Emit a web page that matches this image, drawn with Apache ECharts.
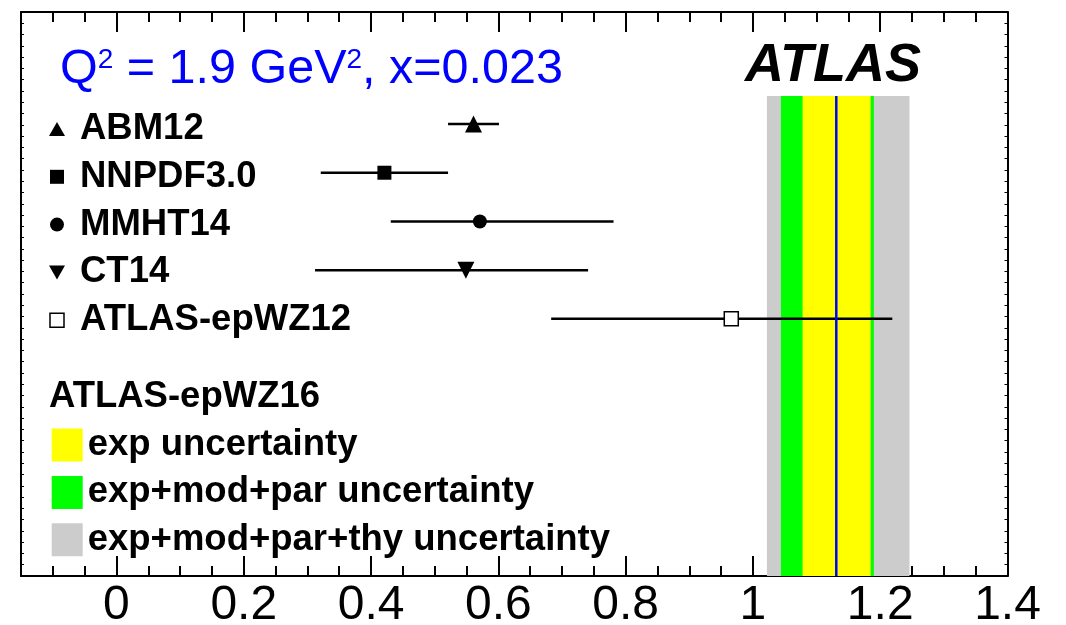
<!DOCTYPE html>
<html lang="en">
<head>
    <meta charset="UTF-8">
    <title>r_s ATLAS</title>
    <script src="https://cdn.jsdelivr.net/npm/echarts@6.0.0/dist/echarts.min.js"></script>
    <style>
        html, body { margin: 0; padding: 0; background: #fff; }
        #chart { width: 1066px; height: 625px; }
    </style>
</head>
<body>
<div id="chart"></div>
<script>
    // PDF sets, central value and error bar ends
    var pdfSets = ['ABM12', 'NNPDF3.0', 'MMHT14', 'CT14', 'ATLAS-epWZ12'];
    var pdfCentral = [0.561, 0.421, 0.571, 0.549, 0.966];
    var pdfLow = [0.521, 0.321, 0.431, 0.312, 0.683];
    var pdfHigh = [0.601, 0.521, 0.781, 0.741, 1.219];

    // ATLAS-epWZ16 result and its uncertainty bands
    var epWZ16Central = 1.131;
    var bandNames = ['exp uncertainty', 'exp+mod+par uncertainty', 'exp+mod+par+thy uncertainty'];
    var bandLow = [1.078, 1.044, 1.022];
    var bandHigh = [1.185, 1.190, 1.246];
    var bandColors = ['#ffff00', '#00ff00', '#cccccc'];

    var xMajorTicks = [0, 0.2, 0.4, 0.6, 0.8, 1, 1.2, 1.4];

    var FONT = 'Liberation Sans, Arial, Helvetica, sans-serif';
    var LEG_FS = 36.5;
    var BAND_TOP = 0.425;   // row units, top of the coloured bands

    var xMinorTicks = [];
    for (var k = -3; k <= 28; k++) xMinorTicks.push(Math.round(k * 5) / 100);

    var markerSymbols = ['triangle', 'rect', 'circle', 'triangle', 'rect'];
    var markerSizes = [17, 14, 14, 17, 14];

    var chart = echarts.init(document.getElementById('chart'));

    function xAxisDef(pos, ticks, len, showLabel, showLine) {
        return {
            type: 'value', position: pos, min: -0.15, max: 1.4,
            axisLine: { show: showLine, onZero: false, lineStyle: { color: '#000', width: 2 } },
            axisTick: { show: true, inside: true, length: len, customValues: ticks,
                lineStyle: { color: '#000', width: 2 } },
            axisLabel: showLabel ? {
                show: true, customValues: xMajorTicks, margin: 6,
                fontSize: 48, color: '#000', fontFamily: FONT
            } : { show: false },
            splitLine: { show: false }
        };
    }

    function yFrameAxis(pos) {
        return {
            type: 'value', position: pos, min: 0, max: 1, interval: 0.02,
            axisLine: { show: true, onZero: false, lineStyle: { color: '#000', width: 2 } },
            axisTick: { show: true, inside: true, length: 3, lineStyle: { color: '#000', width: 1 } },
            axisLabel: { show: false },
            splitLine: { show: false }
        };
    }

    var series = [];

    // bands, widest first
    for (var b = bandNames.length - 1; b >= 0; b--) {
        series.push({
            name: bandNames[b],
            type: 'custom',
            z: 1,
            itemStyle: { color: bandColors[b] },
            encode: { x: [0, 1] },
            data: [[bandLow[b], bandHigh[b]]],
            renderItem: function (params, api) {
                var p0 = api.coord([api.value(0), BAND_TOP]);
                var p1 = api.coord([api.value(1), BAND_TOP]);
                var bottom = params.coordSys.y + params.coordSys.height;
                return {
                    type: 'rect',
                    shape: { x: p0[0], y: p0[1], width: p1[0] - p0[0], height: bottom - p0[1] },
                    style: { fill: api.visual('color') }
                };
            }
        });
    }

    // error bars
    series.push({
        name: 'errors',
        type: 'custom',
        z: 3,
        encode: { x: [0, 1], y: 2 },
        data: pdfLow.map(function (lo, i) { return [lo, pdfHigh[i], i + 1]; }),
        renderItem: function (params, api) {
            var a = api.coord([api.value(0), api.value(2)]);
            var c = api.coord([api.value(1), api.value(2)]);
            return {
                type: 'line',
                shape: { x1: a[0], y1: a[1], x2: c[0], y2: c[1] },
                style: { stroke: '#000', lineWidth: 2.5 }
            };
        }
    });

    // central line of ATLAS-epWZ16
    series.push({
        name: 'ATLAS-epWZ16',
        type: 'custom',
        z: 4,
        encode: { x: 0 },
        data: [[epWZ16Central]],
        renderItem: function (params, api) {
            var p = api.coord([api.value(0), BAND_TOP]);
            var bottom = params.coordSys.y + params.coordSys.height;
            return {
                type: 'line',
                shape: { x1: p[0], y1: p[1], x2: p[0], y2: bottom },
                style: { stroke: '#0000ff', lineWidth: 2.5 }
            };
        }
    });

    // markers
    pdfSets.forEach(function (name, i) {
        var open = (i === 4);
        series.push({
            name: name,
            type: 'scatter',
            z: 5,
            symbol: markerSymbols[i],
            symbolSize: markerSizes[i],
            symbolRotate: i === 3 ? 180 : 0,
            itemStyle: open ? { color: '#fff', borderColor: '#000', borderWidth: 1.5, opacity: 1 }
                            : { color: '#000', opacity: 1 },
            data: [[pdfCentral[i], i + 1]]
        });
    });

    var option = {
        animation: false,
        backgroundColor: '#fff',
        grid: { left: 21, right: 58.5, top: 12, bottom: 49, outerBoundsMode: 'none', containLabel: false },
        xAxis: [
            xAxisDef('bottom', xMajorTicks, 20, true, true),
            xAxisDef('bottom', xMinorTicks, 10, false, false),
            xAxisDef('top', xMajorTicks, 20, false, true),
            xAxisDef('top', xMinorTicks, 10, false, false)
        ],
        yAxis: [
            { type: 'value', inverse: true, min: -1.3, max: 10.28, show: false },
            yFrameAxis('left'),
            yFrameAxis('right')
        ],
        title: {
            left: 55, top: 41,
            text: '{a|Q}{s|2}{a| = 1.9 GeV}{s|2}{a|, x=0.023}',
            textStyle: {
                fontWeight: 'normal',
                rich: {
                    a: { fontSize: 48.5, lineHeight: 48, fontWeight: 'normal', color: '#0000ff',
                        fontFamily: FONT, verticalAlign: 'bottom' },
                    s: { fontSize: 28, lineHeight: 28, fontWeight: 'normal', color: '#0000ff',
                        fontFamily: FONT, verticalAlign: 'top' }
                }
            }
        },
        legend: [{
            orient: 'vertical', left: 49, top: 110.5, padding: 0,
            itemWidth: 16, itemHeight: 14, itemGap: 10.8,
            selectedMode: false,
            textStyle: { fontSize: LEG_FS, fontWeight: 'bold', color: '#000', fontFamily: FONT,
                lineHeight: 36, padding: [0, 0, 0, 10] },
            data: [
                { name: 'ABM12', icon: 'triangle', itemStyle: { color: '#000' } },
                { name: 'NNPDF3.0', icon: 'path://M0,0H14V14H0Z', itemStyle: { color: '#000' } },
                { name: 'MMHT14', icon: 'circle', itemStyle: { color: '#000' } },
                { name: 'CT14', icon: 'path://M0,0L16,0L8,14Z', itemStyle: { color: '#000' } },
                { name: 'ATLAS-epWZ12', icon: 'path://M0,0H14V14H0Z',
                    itemStyle: { color: '#fff', borderColor: '#000', borderWidth: 1.5 } }
            ]
        }, {
            orient: 'vertical', left: 51.7, top: 426.5, padding: 0,
            itemWidth: 31, itemHeight: 33, itemGap: 10.4,
            selectedMode: false,
            textStyle: { fontSize: LEG_FS, fontWeight: 'bold', color: '#000', fontFamily: FONT, lineHeight: 33 },
            data: bandNames.map(function (n, i) {
                return { name: n, icon: 'rect', itemStyle: { color: bandColors[i] } };
            })
        }],
        graphic: [{
            type: 'text', x: 745, y: 66, z: 10,
            style: { text: 'ATLAS', fill: '#000', font: 'italic bold 54px ' + FONT,
                align: 'left', verticalAlign: 'middle' }
        }, {
            type: 'text', x: 49, y: 396.5, z: 10,
            style: { text: 'ATLAS-epWZ16', fill: '#000', font: 'bold ' + LEG_FS + 'px ' + FONT,
                align: 'left', verticalAlign: 'middle' }
        }],
        series: series
    };

    chart.setOption(option);
</script>
</body>
</html>
